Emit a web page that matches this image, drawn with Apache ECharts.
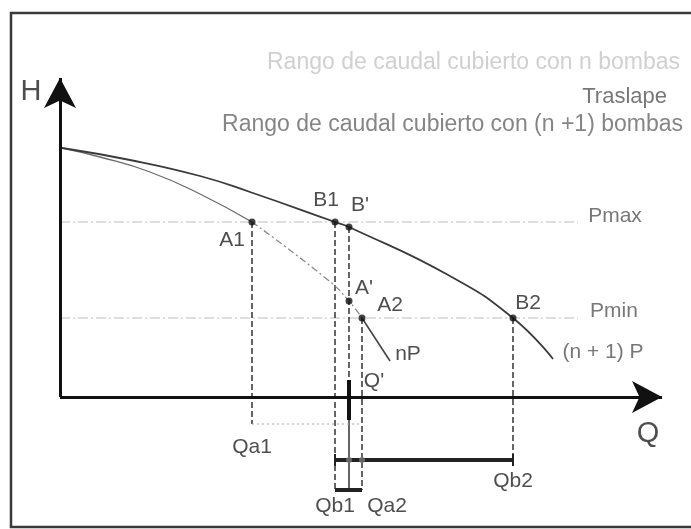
<!DOCTYPE html>
<html><head><meta charset="utf-8">
<script src="https://cdn.jsdelivr.net/npm/echarts@6/dist/echarts.min.js"></script>
<style>html,body{margin:0;padding:0;background:#fff}#c{width:691px;height:529px}</style>
</head><body><div id="c"></div>
<script>
// ---- data (units: Q to the right of the H axis, H above the Q axis) ----
const curveN1P = [[2,249],[70,237],[140,221],[190,205],[275,175],[289,170],[390,121],[453,79],[493,38]];
const curveNP_a = [[2,249],[40,240],[90,225],[140,203],[192,175]];
const curveNP_b = [[192,175],[268,117],[289,96],[302,79]];
const curveNP_c = [[302,79],[330,36]];
const Hmax = 175, Hmin = 79, Hline_end = 518;
const pointNames = ['A1','B1',"B'","A'",'A2','B2'];
const pointQ = [192,275,289,289,302,453];
const pointH = [175,175,170,96,79,79];
const Qa1 = 192, Qb1 = 275, Qp = 289, Qa2 = 302, Qb2 = 453;
const Qaxis_end = 602, Haxis_end = 319;
const labelTexts = ['H','Q','A1','B1',"B'","A'",'A2','B2','nP',"Q'",'Qa1','Qb2','Qb1','Qa2','Pmax','Pmin','(n + 1) P'];
const labelQ =     [-29,588,172,266,300,304,330,468,348,314,192,453,275,327,555,554,543];
const labelH =     [305,-37,157,197,192,109,92,94,43,16,-50,-84,-109,-109,181,86,45];
const topTexts = ['Rango de caudal cubierto con n bombas','Traslape','Rango de caudal cubierto con (n +1) bombas'];
const topRightQ = [620,607,623];
const topH = [334,300,272];

const chart = echarts.init(document.getElementById('c'), null, {renderer:'canvas'});
const FONT = 'Liberation Sans, Arial, sans-serif';

function seg(pts, color, width, type, smooth, z){
  return {type:'line', data:pts, smooth:smooth?0.5:false, symbol:'none', silent:true, z:z||2,
    lineStyle:{color:color, width:width, type:type||'solid'}, animation:false};
}
const series = [];
// axes with arrows
series.push({type:'line', data:[[0,0]], symbol:'none', silent:true, z:5, animation:false,
  markLine:{silent:true, animation:false, symbol:['none','arrow'], symbolSize:[24,30], label:{show:false},
    lineStyle:{color:'#111', width:3, type:'solid'},
    data:[[{coord:[0,0]},{coord:[Qaxis_end,0]}],[{coord:[0,0]},{coord:[0,Haxis_end]}]]}});
// Pmax / Pmin lines
series.push(seg([[0,Hmax],[Hline_end,Hmax]], '#bdbdbd', 1.2, [10,3,2,3]));
series.push(seg([[0,Hmin],[Hline_end,Hmin]], '#bdbdbd', 1.2, [10,3,2,3]));
// curves
series.push(seg(curveN1P, '#3a3a3a', 1.8, 'solid', true, 4));
series.push(seg(curveNP_a, '#6a6a6a', 1.3, 'solid', true, 3));
series.push(seg(curveNP_b, '#8a8a8a', 1.3, [7,3,2,3], true, 3));
series.push(seg(curveNP_c, '#444', 1.6, 'solid', true, 3));
// vertical dashed projections
const dash = [6,3];
series.push(seg([[Qa1,Hmax],[Qa1,-27]], '#333', 1.5, dash));
series.push(seg([[Qb1,Hmax],[Qb1,-93]], '#333', 1.5, dash));
series.push(seg([[Qp,170],[Qp,-23]], '#333', 1.5, dash));
series.push(seg([[Qa2,Hmin],[Qa2,-93]], '#333', 1.5, dash));
series.push(seg([[Qb2,Hmin],[Qb2,-58]], '#333', 1.5, dash));
series.push(seg([[Qp,17],[Qp,-23]], '#111', 4, 'solid', false, 6));
series.push(seg([[Qp,-23],[Qp,-93]], '#333', 1.5, 'solid'));
series.push(seg([[Qa1,-27],[Qa2,-27]], '#aaa', 1.2, [2,3]));
// range bars
series.push(seg([[Qb1,-63],[Qb2,-63]], '#222', 4, 'solid', false, 6));
series.push(seg([[Qb1,-57],[Qb1,-69]], '#222', 2, 'solid', false, 6));
series.push(seg([[Qb2,-57],[Qb2,-69]], '#222', 2, 'solid', false, 6));
series.push(seg([[Qb1,-93],[Qa2,-93]], '#222', 4, 'solid', false, 6));
series.push({type:'scatter', data:[[Qp,-63],[Qa2,-63]], symbolSize:6, itemStyle:{color:'#777'}, z:7, silent:true, animation:false});
// points
series.push({type:'scatter', data:pointQ.map((q,i)=>({name:pointNames[i], value:[q,pointH[i]]})),
  symbolSize:7, itemStyle:{color:'#111'}, z:8, silent:true, animation:false});
// labels
const bigLabels = {'H':1,'Q':1};
const grayLabels = {'Pmax':1,'Pmin':1,'(n + 1) P':1};
series.push({type:'scatter', symbolSize:0, z:9, silent:true, animation:false,
  data:labelTexts.map((t,i)=>({name:t, value:[labelQ[i],labelH[i]],
    label:{show:true, position:[0,0], align:'center', verticalAlign:'middle', formatter:'{b}',
      fontFamily:FONT, fontSize: bigLabels[t]?29:21, color: grayLabels[t]?'#555':'#222'}}))});
const topColors = ['#c4c4c4','#555','#666'];
const topSizes = [23,22,23];
series.push({type:'scatter', symbolSize:0, z:9, silent:true, animation:false,
  data:topTexts.map((t,i)=>({name:t, value:[topRightQ[i],topH[i]],
    label:{show:true, position:[0,0], align:'right', verticalAlign:'middle', formatter:'{b}',
      fontFamily:FONT, fontSize:topSizes[i], color:topColors[i]}}))});

chart.setOption({
  animation:false,
  grid:{left:0,right:0,top:0,bottom:0},
  xAxis:{type:'value', min:-60, max:631, show:false},
  yAxis:{type:'value', min:-132, max:397, show:false},
  graphic:[{type:'rect', shape:{x:11,y:13,width:700,height:514}, style:{fill:null, stroke:'#3a3a3a', lineWidth:2.5}, z:0}],
  series:series
});
</script></body></html>
